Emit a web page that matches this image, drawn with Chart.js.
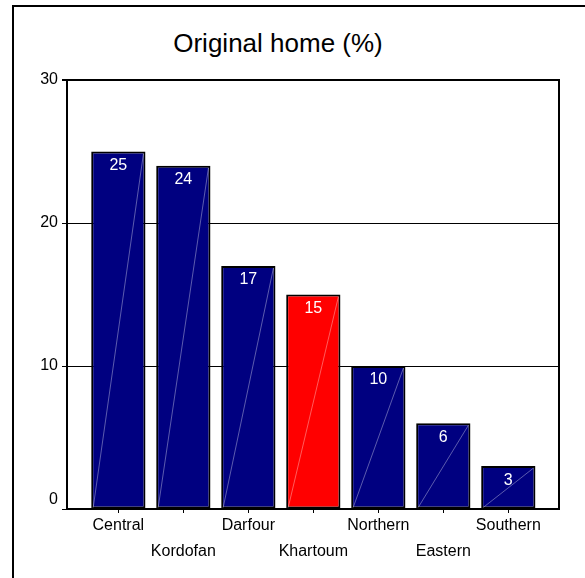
<!DOCTYPE html>
<html>
<head>
  <title>Original home</title>
  <script src="https://cdn.jsdelivr.net/npm/chart.js"></script>
  <style>
  body {
        margin: 0;
        background: #fff;
        font-family: 'Liberation Sans', Arial, sans-serif;
        }
  #wrap {
        position: relative;
        width: 585px;
        height: 578px;
        }
  #frame {
        position: absolute;
        left: 12px;
        top: 5px;
        right: 0;
        bottom: 0;
        border-left: 2px solid #000;
        border-top: 2px solid #000;
        }
  #titulo {
        position: absolute;
        left: 0;
        top: 28px;
        width: 556px;
        line-height: 30px;
        font-size: 26px;
        text-align: center;
        color: #000;
        }
  #myChart {
        position: absolute;
        left: 0;
        top: 0;
        }
</style>
</head>
<body>
  <div id="wrap">
    <div id="frame"></div>
    <div id="titulo">Original home (%)</div>
    <canvas id="myChart" width="585" height="578"></canvas>
  </div>
  <script>
    // Regiones y porcentajes
    var regiones = ['Central', 'Kordofan', 'Darfour', 'Khartoum', 'Northern', 'Eastern', 'Southern'];
    var porcentajes = [25, 24, 17, 15, 10, 6, 3];
    var colores = ['#000080', '#000080', '#000080', '#ff0000', '#000080', '#000080', '#000080'];
    var ticksY = [0, 10, 20, 30];

    var fuente = "'Liberation Sans', Arial, sans-serif";

    // Etiqueta blanca con el valor dentro de cada barra, y la línea diagonal clara
    var etiquetasBarras = {
      id: 'etiquetasBarras',
      afterDatasetsDraw: function(chart) {
        var ctx = chart.ctx;
        var meta = chart.getDatasetMeta(0);
        ctx.save();
        meta.data.forEach(function(bar, i) {
          var izq = bar.x - bar.width / 2;
          var der = bar.x + bar.width / 2;
          ctx.strokeStyle = 'rgba(255,255,255,0.45)';
          ctx.lineWidth = 0.8;
          ctx.beginPath();
          ctx.moveTo(izq + 2, bar.base - 1);
          ctx.lineTo(der - 2, bar.y + 2);
          ctx.stroke();

          ctx.fillStyle = '#fff';
          ctx.font = '16px ' + fuente;
          ctx.textAlign = 'center';
          ctx.textBaseline = 'middle';
          ctx.fillText(String(porcentajes[i]), bar.x, bar.y + 14);
        });
        ctx.restore();
      }
    };

    // Borde derecho del área del gráfico
    var bordeDerecho = {
      id: 'bordeDerecho',
      afterDraw: function(chart) {
        var a = chart.chartArea;
        var ctx = chart.ctx;
        ctx.save();
        ctx.strokeStyle = '#000';
        ctx.lineWidth = 2;
        ctx.beginPath();
        ctx.moveTo(a.right, a.top - 1);
        ctx.lineTo(a.right, a.bottom + 1);
        ctx.stroke();
        ctx.restore();
      }
    };

    var puntos = regiones.map(function(r, i) {
      return { x: i, y: porcentajes[i] };
    });

    var ctx = document.getElementById('myChart').getContext('2d');
    new Chart(ctx, {
      type: 'bar',
      data: {
        datasets: [{
          data: puntos,
          backgroundColor: colores,
          borderColor: '#000',
          borderWidth: 2,
          borderSkipped: false,
          barPercentage: 0.835,
          categoryPercentage: 1
        }]
      },
      options: {
        responsive: false,
        animation: false,
        events: [],
        layout: { padding: { top: 80, right: 26, left: 0, bottom: 0 } },
        plugins: {
          legend: { display: false },
          tooltip: { enabled: false },
          title: { display: false }
        },
        scales: {
          x: {
            type: 'linear',
            offset: false,
            min: -0.79,
            max: 6.78,
            bounds: 'data',
            afterBuildTicks: function(s) {
              s.ticks = regiones.map(function(r, i) { return { value: i }; });
            },
            afterFit: function(s) { s.height = 69; },
            grid: {
              offset: false,
              drawOnChartArea: false,
              color: '#000',
              lineWidth: 1,
              tickLength: 4
            },
            border: { display: true, color: '#000', width: 2 },
            ticks: {
              autoSkip: false,
              maxRotation: 0,
              padding: -1,
              color: '#000',
              font: { family: fuente, size: 16, lineHeight: 1.67 },
              callback: function(v) {
                var i = Math.round(v);
                return i % 2 === 1 ? ['', regiones[i]] : regiones[i];
              }
            }
          },
          y: {
            min: 0,
            max: 30,
            afterBuildTicks: function(s) {
              s.ticks = ticksY.map(function(t) { return { value: t }; });
            },
            afterFit: function(s) { s.width = 67; },
            grid: {
              color: '#000',
              lineWidth: function(c) { return c.tick && c.tick.value === 30 ? 2 : 1; },
              tickLength: 5
            },
            border: { display: true, color: '#000', width: 2 },
            ticks: {
              padding: 4,
              color: '#000',
              font: { family: fuente, size: 16 },
              callback: function(v) {
                return v === 0 ? ['0', ''] : String(v);
              }
            }
          }
        }
      },
      plugins: [etiquetasBarras, bordeDerecho]
    });
  </script>
</body>
</html>
